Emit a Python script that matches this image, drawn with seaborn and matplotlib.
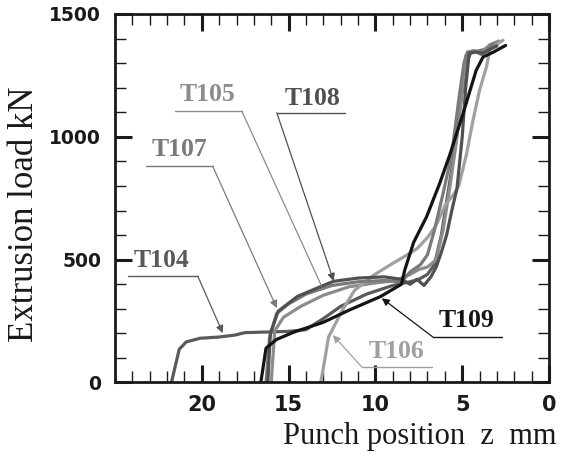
import pandas as pd
import matplotlib.pyplot as plt
import seaborn as sns

# punch position z (mm) and extrusion load (kN)
t104_z = [21.75, 21.3, 20.9, 20.1, 19.0, 18.1, 17.5, 16.5, 15.0, 14.0, 13.0, 12.0, 10.5, 9.0, 8.0, 7.5, 7.0, 6.6, 6.2, 5.8, 5.4, 5.1, 4.8, 4.5, 4.0, 3.5]
t104_load = [0, 135, 165, 180, 185, 193, 203, 205, 208, 215, 260, 310, 360, 395, 410, 420, 440, 480, 600, 780, 960, 1130, 1290, 1345, 1350, 1360]

t105_z = [16.0, 15.8, 15.3, 14.3, 13.0, 11.5, 10.0, 8.8, 8.0, 7.5, 7.0, 6.5, 6.1, 5.7, 5.3, 5.0, 4.8, 4.4, 3.9, 3.4, 2.9]
t105_load = [0, 210, 265, 310, 355, 390, 405, 415, 440, 460, 470, 500, 620, 800, 1000, 1200, 1330, 1350, 1345, 1375, 1390]

t106_z = [13.15, 12.9, 12.7, 11.9, 11.2, 10.1, 9.0, 8.2, 7.6, 7.0, 6.5, 6.0, 5.45, 5.2, 4.75, 4.4, 4.0, 3.6, 3.4, 2.65]
t106_load = [0, 100, 185, 295, 375, 437, 485, 518, 545, 590, 640, 720, 770, 800, 930, 1060, 1190, 1285, 1360, 1393]

t107_z = [16.3, 16.1, 15.7, 15.0, 14.0, 12.5, 11.0, 9.5, 8.5, 8.0, 7.4, 7.0, 6.6, 6.1, 5.6, 5.2, 4.9, 4.7, 4.3, 3.9, 3.2]
t107_load = [0, 180, 280, 320, 360, 395, 410, 415, 410, 450, 480, 520, 620, 770, 930, 1150, 1300, 1345, 1350, 1335, 1380]

t108_z = [16.2, 16.05, 15.6, 14.5, 13.0, 12.4, 11.0, 9.5, 8.5, 8.0, 7.6, 7.2, 6.8, 6.5, 6.2, 5.9, 5.6, 5.3, 5.0, 4.8, 4.6, 4.2, 3.8, 3.3, 3.0]
t108_load = [0, 200, 290, 350, 395, 412, 425, 430, 420, 400, 420, 395, 430, 470, 530, 600, 700, 790, 1000, 1200, 1340, 1345, 1340, 1360, 1370]

t109_z = [16.6, 16.3, 15.7, 14.7, 13.0, 11.5, 9.7, 8.5, 8.3, 7.8, 7.05, 6.3, 5.7, 4.95, 4.2, 3.8, 3.2, 2.5]
t109_load = [0, 140, 175, 205, 245, 295, 350, 400, 460, 570, 675, 810, 930, 1095, 1270, 1325, 1345, 1372]

tests = ['T104', 'T105', 'T106', 'T107', 'T108', 'T109']
colors = {'T104': '#5a5a5a', 'T105': '#8c8c8c', 'T106': '#a0a0a0',
          'T107': '#7a7a7a', 'T108': '#505050', 'T109': '#141414'}

curves = {'T104': (t104_z, t104_load), 'T105': (t105_z, t105_load),
          'T106': (t106_z, t106_load), 'T107': (t107_z, t107_load),
          'T108': (t108_z, t108_load), 'T109': (t109_z, t109_load)}

rows = []
for name in tests:
    z, load = curves[name]
    for a, b in zip(z, load):
        rows.append({'test': name, 'z': a, 'load': b})
df = pd.DataFrame(rows)

# label: text centre, underline (x0, x1, y), arrow tip, arrow head?
labels = {
    'T105': ((19.65, 1173), (21.56, 17.69, 1104), (13.1, 392), False),
    'T108': ((13.6, 1157), (15.68, 11.76, 1098), (12.4, 413), True),
    'T107': ((21.27, 949), (23.23, 19.37, 880), (15.68, 303), True),
    'T104': ((22.3, 498), (24.27, 20.23, 433), (18.79, 201), True),
    'T109': ((4.73, 254), (6.69, 2.71, 185), (9.63, 343), True),
    'T106': ((8.76, 128), (10.78, 6.74, 63), (12.45, 193), True),
}
# which end of the underline the leader starts from
leader_end = {'T105': 1, 'T108': 0, 'T107': 1, 'T104': 1, 'T109': 0, 'T106': 0}

sns.set_style('ticks')
plt.rcParams['font.family'] = ['DejaVu Sans']

fig = plt.figure(figsize=(5.62, 4.59), dpi=100)
ax = fig.add_axes([0.2046, 0.1667, 0.7723, 0.8028])

sns.lineplot(data=df, x='z', y='load', hue='test', palette=colors, sort=False,
             estimator=None, linewidth=2.3, legend=False, ax=ax)

for name in tests:
    (tx, ty), (u0, u1, uy), tip, head = labels[name]
    c = colors[name]
    ax.plot([u0, u1], [uy, uy], color=c, lw=1.0, clip_on=False)
    start = (u0, uy) if leader_end[name] == 0 else (u1, uy)
    ax.annotate('', xy=tip, xytext=start,
                arrowprops=dict(arrowstyle='-|>' if head else '-', color=c, lw=0.9,
                                mutation_scale=11, shrinkA=0, shrinkB=0))
    ax.text(tx, ty, name, ha='center', va='center', color=c, fontsize=18.5,
            fontweight='bold', family=['Liberation Serif'])

ax.set_xlim(25, 0)
ax.set_ylim(0, 1500)
ax.set_xticks([20, 15, 10, 5, 0])
ax.set_xticks(range(0, 26), minor=True)
ax.set_yticks([0, 500, 1000, 1500])
ax.set_yticks(range(0, 1501, 100), minor=True)
ax.tick_params(which='both', direction='in', top=True, right=True, colors='#1a1a1a')
ax.tick_params(which='major', length=12, width=2.2, pad=10)
ax.tick_params(which='minor', length=8, width=1.0)
ax.tick_params(axis='x', which='major', labelsize=15, pad=9)
ax.tick_params(axis='y', which='major', labelsize=13.5)
for lab in ax.get_xticklabels() + ax.get_yticklabels():
    lab.set_fontweight('bold')
for sp in ax.spines.values():
    sp.set_linewidth(2.0)
    sp.set_color('#1a1a1a')

ax.set_xlabel('')
ax.set_ylabel('')
fig.text(0.991, 0.018, 'Punch position  z  mm', ha='right', va='bottom', fontsize=22,
         family=['Liberation Serif'], color='#1a1a1a')
fig.text(0.043, 0.532, 'Extrusion load kN', ha='center', va='center', rotation=90,
         fontsize=25, family=['Liberation Serif'], color='#1a1a1a')

fig.savefig('out.png', dpi=100)
